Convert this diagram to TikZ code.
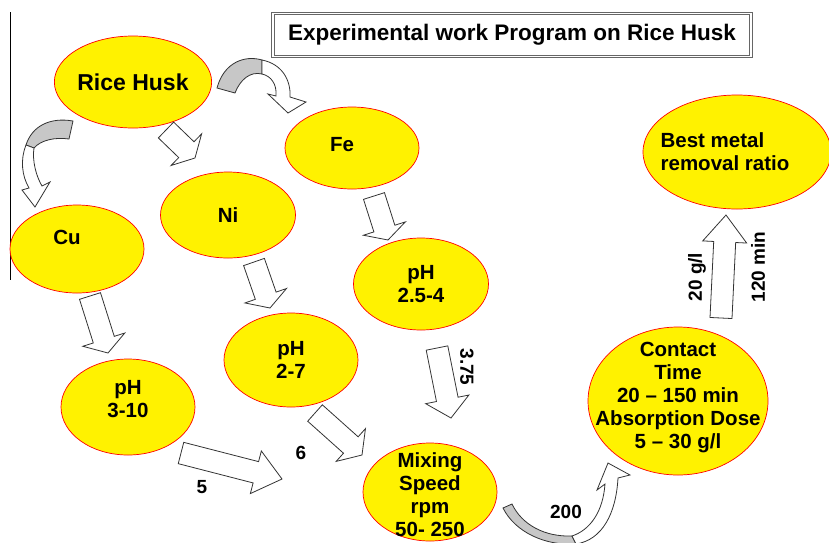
\documentclass[tikz,border=0pt]{standalone}
\usepackage{fontspec}
\setmainfont{Liberation Sans}
\usetikzlibrary{shapes.geometric, calc}

% straight block arrow: head length, tail coordinate, tip coordinate
\newcommand{\blockarrow}[3]{%
  \draw[barrow] let \p1=($(#3)-(#2)$), \n1={atan2(\y1,\x1)}, \n2={veclen(\x1,\y1)} in
    [shift={(#2)}, rotate=\n1]
    (0pt,-11pt) -- (\n2-#1pt,-11pt) -- (\n2-#1pt,-22pt) -- (\n2+0pt,0pt)
    -- (\n2-#1pt,22pt) -- (\n2-#1pt,11pt) -- (0pt,11pt) -- cycle;
}

\begin{document}
\begin{tikzpicture}[x=1pt, y=-1pt,
        ell/.style={ellipse, draw=red, fill=yellow, line width=0.7pt, inner sep=0pt,
            align=center, font=\bfseries\fontsize{20.5}{23}\selectfont},
        etext/.style={align=center, inner sep=0pt, font=\bfseries\fontsize{20.5}{23}\selectfont},
        barrow/.style={draw=black!80, fill=white, line width=0.8pt, line join=miter},
        carrow/.style={draw=black!80, line width=0.8pt, line join=miter},
        lbl/.style={inner sep=0pt, font=\bfseries\fontsize{19}{19}\selectfont}
    ]
    \useasboundingbox (0,0) rectangle (829,542);
    \draw[line width=0.8pt] (10,12) -- (10,280);

    \node[draw=black!60, double=white, double distance=1.6pt, line width=0.9pt,
        minimum width=478, minimum height=43,
        font=\bfseries\fontsize{22.5}{22.5}\selectfont] (title) at (512,35)
        {Experimental work Program on Rice Husk};

    % metals and parameters
    \node[ell, minimum width=156, minimum height=92,
        font=\bfseries\fontsize{23}{26}\selectfont] (rice) at (133,82) {Rice Husk};
    \node[ell, minimum width=134, minimum height=82,
        label={[etext, xshift=-10pt, yshift=3pt]center:Fe}] (fe) at (352,148) {};
    \node[ell, minimum width=135, minimum height=86] (ni) at (228,215) {Ni};
    \node[ell, minimum width=134, minimum height=88,
        label={[etext, xshift=-10pt, yshift=12pt]center:Cu}] (cu) at (77,249) {};
    \node[ell, minimum width=134, minimum height=96,
        label={[etext, yshift=8pt]center:pH\\3-10}] (ph310) at (128,407) {};
    \node[ell, minimum width=134, minimum height=94] (ph27) at (291,360) {pH\\2-7};
    \node[ell, minimum width=135, minimum height=92] (ph254) at (421,284) {pH\\2.5-4};
    \node[ell, minimum width=134, minimum height=98,
        label={[etext, yshift=-3pt]center:Mixing\\Speed\\rpm\\50- 250}] (mix) at (430,492) {};
    \node[ell, minimum width=180, minimum height=148,
        label={[etext, yshift=3pt]center:Contact\\Time\\20 -- 150 min\\Absorption Dose\\5 -- 30 g/l}]
        (contact) at (678,401) {};
    \node[ell, minimum width=188, minimum height=114,
        label={[etext, align=left, xshift=-12pt]center:Best metal\\removal ratio}]
        (best) at (737,152) {};

    % straight arrows
    \coordinate (rn0) at (166,130);  \coordinate (rn1) at (195,158);
    \coordinate (fp0) at (374,196);  \coordinate (fp1) at (388,240);
    \coordinate (np0) at (254,262);  \coordinate (np1) at (270,308);
    \coordinate (cp0) at (90,296);   \coordinate (cp1) at (108,353);
    \coordinate (pm0) at (181,453);  \coordinate (pm1) at (282,479);
    \coordinate (qm0) at (315,413);  \coordinate (qm1) at (362,455);
    \coordinate (sm0) at (437,348);  \coordinate (sm1) at (451,418);
    \coordinate (cb0) at (721,318);  \coordinate (cb1) at (726,215);
    \blockarrow{12}{rn0}{rn1}
    \blockarrow{12}{fp0}{fp1}
    \blockarrow{13}{np0}{np1}
    \blockarrow{14}{cp0}{cp1}
    \blockarrow{27}{pm0}{pm1}
    \blockarrow{15}{qm0}{qm1}
    \blockarrow{19}{sm0}{sm1}
    \blockarrow{27}{cb0}{cb1}

    % curved arrows
    \draw[carrow, fill=black!22] (217,88) .. controls (224,62) and (245,55) .. (262,60)
        -- (262,74) .. controls (250,71) and (240,80) .. (235,93) -- cycle;
    \draw[carrow, fill=white] (262,60) .. controls (282,64) and (291,80) .. (290,97)
        -- (306,102) -- (288,113) -- (268,94) -- (276,96)
        .. controls (277,84) and (271,76) .. (262,74) -- cycle;

    \draw[carrow, fill=black!22] (73,121) .. controls (50,117) and (32,126) .. (26,145)
        -- (34,148) .. controls (41,140) and (55,137) .. (69,139) -- cycle;
    \draw[carrow, fill=white] (26,145) .. controls (20,160) and (22,176) .. (29,188)
        -- (22,190) -- (35,207) -- (50,182) -- (42,186)
        .. controls (36,176) and (32,160) .. (34,148) -- cycle;

    \draw[carrow, fill=black!22] (503,508) .. controls (515,532) and (545,546) .. (576,544)
        -- (572,536) .. controls (545,537) and (522,525) .. (512,504) -- cycle;
    \draw[carrow, fill=white] (576,544) .. controls (602,540) and (616,514) .. (618,478)
        -- (630,475) -- (608,463) -- (597,490) -- (605,484)
        .. controls (603,512) and (590,530) .. (572,536) -- cycle;

    % values
    \node[lbl] (v5) at (202,487) {5};
    \node[lbl] (v6) at (301,453) {6};
    \node[lbl, rotate=-90] (v375) at (467,367) {3.75};
    \node[lbl] (v200) at (566,512) {200};
    \node[lbl, rotate=90] (v20) at (697,277) {20 g/l};
    \node[lbl, rotate=90] (v120) at (758,267) {120 min};
\end{tikzpicture}
\end{document}
